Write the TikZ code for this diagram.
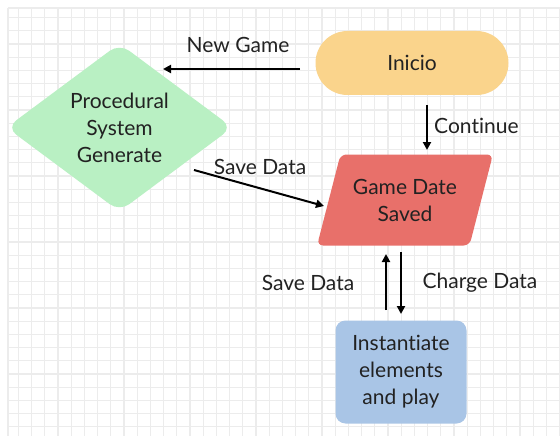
\documentclass[tikz,border=0pt]{standalone}
\usepackage{fontspec}
\setmainfont{Lato}[Ligatures=CommonOff]
\usetikzlibrary{shapes.geometric,arrows.meta}
\definecolor{gridc}{HTML}{ECECEC}
\definecolor{startc}{HTML}{FAD48C}
\definecolor{procc}{HTML}{B9F0C3}
\definecolor{datac}{HTML}{E8706A}
\definecolor{playc}{HTML}{A9C5E6}
\definecolor{txtc}{HTML}{222222}
\tikzset{
  lbl/.style={font=\fontsize{21}{25}\selectfont, text=txtc, inner sep=0pt},
  boxtxt/.style={font=\fontsize{21}{27}\selectfont, text=txtc, align=center},
  conn/.style={line width=2pt, -{Triangle[length=8pt,width=8pt]}},
}
\begin{document}
\begin{tikzpicture}[x=1pt,y=-1pt]
\useasboundingbox (0,0) rectangle (560,436);
\fill[white] (0,0) rectangle (560,436);
% grid
\foreach \i in {0,...,41} {
  \draw[gridc, line width=1.2pt] ({18.3+13.2*\i},8) -- ({18.3+13.2*\i},436);
}
\foreach \j in {0,...,31} {
  \draw[gridc, line width=1.2pt] (8,{17.6+13.2*\j}) -- (560,{17.6+13.2*\j});
}
\draw[gridc, line width=1.2pt] (8,8) -- (8,436);
\draw[gridc, line width=1.2pt] (8,8) -- (560,8);

% nodes
\node[boxtxt, fill=startc, rounded corners=32pt, minimum width=193pt, minimum height=64pt, inner sep=0pt] (inicio) at (412,63) {Inicio};
\node[boxtxt, fill=procc, diamond, rounded corners=12pt, minimum width=226pt, minimum height=168pt, inner sep=0pt, aspect=1.35] (proc) at (119.5,127.5) {Procedural\\System\\Generate};
\node[boxtxt, fill=datac, trapezium, trapezium left angle=66, trapezium right angle=114, trapezium stretches=true, rounded corners=6pt, minimum width=176pt, minimum height=91pt, inner sep=0pt] (data) at (405,200) {Game Date\\Saved};
\node[boxtxt, fill=playc, rounded corners=10pt, minimum width=131pt, minimum height=103pt, inner sep=0pt] (play) at (401,372) {Instantiate\\elements\\and play};

% connectors
\coordinate (a1s) at (300,69);
\coordinate (a1e) at (163,69);
\draw[conn] (a1s) -- (a1e);
\node[lbl] (l1) at (238,45) {New Game};

\coordinate (a2s) at (427,105);
\coordinate (a2e) at (427,150);
\draw[conn] (a2s) -- (a2e);
\node[lbl, anchor=west] (l2) at (434,126) {Continue};

\coordinate (a3s) at (194,170);
\coordinate (a3e) at (324,206);
\draw[conn] (a3s) -- (a3e);
\node[lbl] (l3) at (260,167) {Save Data};

\coordinate (a4s) at (386,310);
\coordinate (a4e) at (386,254);
\draw[conn] (a4s) -- (a4e);
\node[lbl] (l4) at (308,283) {Save Data};

\coordinate (a5s) at (401,252);
\coordinate (a5e) at (401,314);
\draw[conn] (a5s) -- (a5e);
\node[lbl] (l5) at (480,283) {Charge Data};
\end{tikzpicture}
\end{document}
